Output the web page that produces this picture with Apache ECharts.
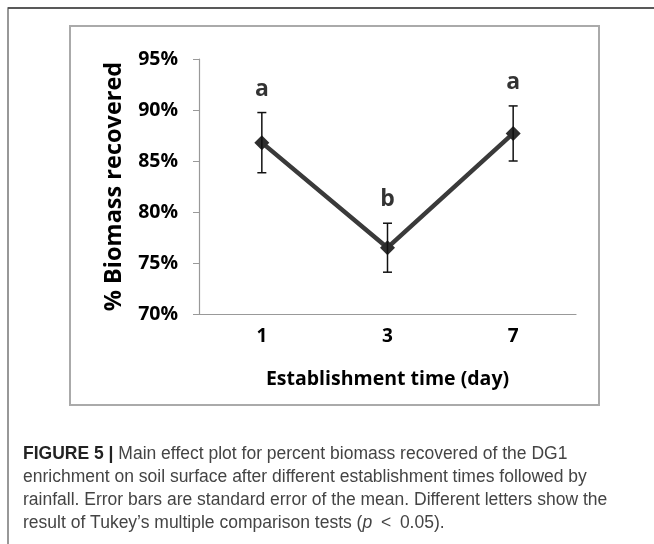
<!DOCTYPE html>
<html>
<head>
<meta charset="utf-8">
<script src="https://cdn.jsdelivr.net/npm/echarts@6/dist/echarts.min.js"></script>
<style>
html,body{margin:0;padding:0;background:#fff;}
#chart{width:654px;height:544px;}
</style>
</head>
<body>
<div id="chart"></div>
<script>
// Data
const categories = ['1', '3', '7'];
const meanValues = [86.8, 76.5, 87.7];
const seValues = [2.95, 2.4, 2.7];
const letters = ['a', 'b', 'a'];
const yTicks = {min: 70, max: 95, interval: 5};

const errData = categories.map((c, i) => [i, meanValues[i] - seValues[i], meanValues[i] + seValues[i]]);
const topData = categories.map((c, i) => meanValues[i] + seValues[i]);

const chart = echarts.init(document.getElementById('chart'), null, {renderer: 'canvas'});

const captionText =
  '{b|FIGURE 5 |} Main effect plot for percent biomass recovered of the DG1\n' +
  'enrichment on soil surface after different establishment times followed by\n' +
  'rainfall. Error bars are standard error of the mean. Different letters show the\n' +
  'result of Tukey\u2019s multiple comparison tests ({i|p}\u2002<\u20020.05).';

const capSize = 17.5;
const capFont = 'Liberation Sans';
const option = {
  animation: false,
  backgroundColor: '#fff',
  title: {
    text: captionText,
    left: 23,
    top: 443,
    padding: 0,
    textStyle: {
      fontFamily: capFont,
      fontWeight: 'normal',
      fontSize: capSize,
      color: '#444',
      lineHeight: 23,
      rich: {
        b: {fontFamily: capFont, fontWeight: 'bold', fontSize: capSize, color: '#222', lineHeight: 23},
        i: {fontFamily: capFont, fontWeight: 'normal', fontStyle: 'italic', fontSize: capSize, color: '#444', lineHeight: 23}
      }
    }
  },
  graphic: [
    {type: 'rect', shape: {x: 8, y: 8, width: 700, height: 600}, style: {fill: 'none', stroke: '#777', lineWidth: 1.5}, z: -10},
    {type: 'line', shape: {x1: 8, y1: 8, x2: 654, y2: 8}, style: {stroke: '#444', lineWidth: 1.5}, z: -9},
    {type: 'rect', shape: {x: 70, y: 26, width: 529, height: 379}, style: {fill: 'none', stroke: '#aaa', lineWidth: 2}, z: -10}
  ],
  grid: {left: 199, right: 78, top: 59, bottom: 230},
  xAxis: {
    type: 'category',
    data: categories,
    boundaryGap: true,
    name: 'Establishment time (day)',
    nameLocation: 'middle',
    nameGap: 55,
    nameTextStyle: {fontFamily: 'Open Sans', fontWeight: 'bold', fontSize: 19.5, color: '#000'},
    axisLine: {lineStyle: {color: '#999', width: 1.2}},
    axisTick: {alignWithLabel: true, length: 5, lineStyle: {color: '#999'}},
    axisLabel: {fontFamily: 'Open Sans', fontWeight: 'bold', fontSize: 19, color: '#000', margin: 13},
    splitLine: {show: false}
  },
  yAxis: {
    type: 'value',
    min: yTicks.min,
    max: yTicks.max,
    interval: yTicks.interval,
    name: '% Biomass recovered',
    nameLocation: 'middle',
    nameRotate: 90,
    nameGap: 73,
    nameTextStyle: {fontFamily: 'Open Sans', fontWeight: 'bold', fontSize: 23.5, color: '#000'},
    axisLine: {show: true, lineStyle: {color: '#999', width: 1.2}},
    axisTick: {show: true, length: 6, lineStyle: {color: '#999'}},
    axisLabel: {fontFamily: 'Open Sans', fontWeight: 'bold', fontSize: 19.5, color: '#000', margin: 21, formatter: v => v + '%'},
    splitLine: {show: false}
  },
  series: [
    {
      type: 'line',
      data: meanValues,
      symbol: 'diamond',
      symbolSize: 15,
      lineStyle: {color: '#3a3a3a', width: 4.5},
      itemStyle: {color: '#2e2e2e'},
      z: 3
    },
    {
      type: 'custom',
      data: errData,
      z: 4,
      renderItem: function (params, api) {
        const x = api.value(0);
        const lo = api.coord([x, api.value(1)]);
        const hi = api.coord([x, api.value(2)]);
        const hw = 4.5;
        const st = {stroke: '#111', lineWidth: 1.5};
        return {
          type: 'group',
          children: [
            {type: 'line', shape: {x1: lo[0], y1: lo[1], x2: hi[0], y2: hi[1]}, style: st},
            {type: 'line', shape: {x1: lo[0] - hw, y1: lo[1], x2: lo[0] + hw, y2: lo[1]}, style: st},
            {type: 'line', shape: {x1: hi[0] - hw, y1: hi[1], x2: hi[0] + hw, y2: hi[1]}, style: st}
          ]
        };
      }
    },
    {
      type: 'scatter',
      data: topData,
      symbolSize: 0,
      silent: true,
      label: {
        show: true,
        position: 'top',
        distance: 12,
        formatter: p => letters[p.dataIndex],
        fontFamily: 'Open Sans',
        fontWeight: 'bold',
        fontSize: 23,
        color: '#000'
      }
    }
  ]
};
chart.setOption(option);
</script>
</body>
</html>
